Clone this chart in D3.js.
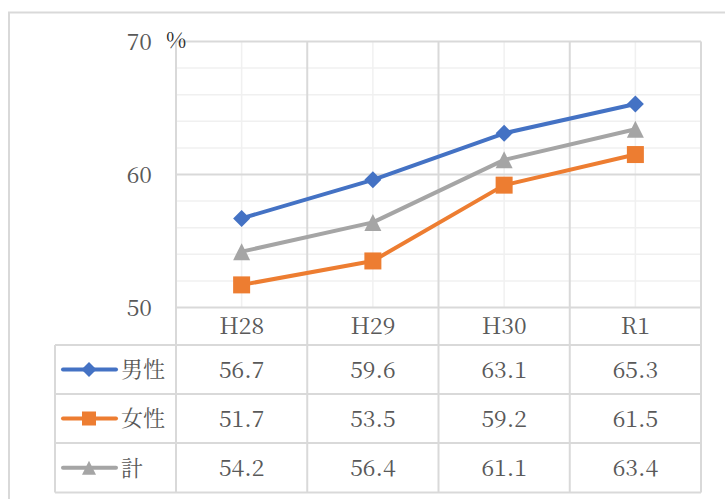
<!DOCTYPE html>
<html><head><meta charset="utf-8">
<script src="https://cdn.jsdelivr.net/npm/d3@7"></script>
<style>
body{margin:0;background:#fff;}
svg{display:block;}
</style></head>
<body>
<svg id="chart" width="725" height="499"></svg>
<script>
// Employment rate by year (%)
const categories = ["H28", "H29", "H30", "R1"];
const seriesNames = ["男性", "女性", "計"];
const male = [56.7, 59.6, 63.1, 65.3];
const female = [51.7, 53.5, 59.2, 61.5];
const total = [54.2, 56.4, 61.1, 63.4];
const yTicks = [50, 60, 70];
const unitLabel = "%";

(function draw() {
  const series = [
    {name: seriesNames[0], values: male, color: "#4472C4", shape: "diamond"},
    {name: seriesNames[1], values: female, color: "#ED7D31", shape: "square"},
    {name: seriesNames[2], values: total, color: "#A5A5A5", shape: "triangle"}
  ];

  const svg = d3.select("#chart");
  const plotL = 176, plotR = 701, plotT = 41.5, plotB = 307.5;
  const rowH = [307.5, 345, 394, 443, 492.5];
  const tableLeft = 55;
  const font = '"Noto Serif CJK JP", "Liberation Serif", serif';
  const textColor = "#595959";
  const major = "#D9D9D9", minor = "#F0F0F0";

  const x = d3.scaleBand().domain(categories).range([plotL, plotR]);
  const y = d3.scaleLinear().domain([50, 70]).range([plotB, plotT]);
  const cx = c => x(c) + x.bandwidth() / 2;

  // outer chart frame
  svg.append("rect").attr("x", 9).attr("y", 12.5).attr("width", 800).attr("height", 600)
    .attr("fill", "none").attr("stroke", major).attr("stroke-width", 2);

  const g = svg.append("g");
  // minor horizontal gridlines every 2 units
  g.selectAll("line.hmin").data(d3.range(52, 70, 2).filter(v => v % 10 !== 0)).join("line")
    .attr("x1", plotL).attr("x2", plotR).attr("y1", d => y(d)).attr("y2", d => y(d))
    .attr("stroke", minor).attr("stroke-width", 1.5);
  // minor vertical gridlines at category centres
  g.selectAll("line.vmin").data(categories).join("line")
    .attr("x1", cx).attr("x2", cx)
    .attr("y1", plotT).attr("y2", plotB).attr("stroke", minor).attr("stroke-width", 1.5);
  // major horizontal gridlines
  g.selectAll("line.hmaj").data(yTicks).join("line")
    .attr("x1", plotL).attr("x2", plotR).attr("y1", d => y(d)).attr("y2", d => y(d))
    .attr("stroke", major).attr("stroke-width", 2);
  // category boundaries, running through the data table
  const bounds = categories.map(c => x(c)).concat([plotR]);
  g.selectAll("line.vmaj").data(bounds).join("line")
    .attr("x1", d => d).attr("x2", d => d).attr("y1", plotT).attr("y2", rowH[4])
    .attr("stroke", major).attr("stroke-width", 2);

  // data table grid
  for (let i = 1; i < rowH.length; i++) {
    g.append("line").attr("x1", tableLeft).attr("x2", plotR).attr("y1", rowH[i]).attr("y2", rowH[i])
      .attr("stroke", major).attr("stroke-width", 2);
  }
  g.append("line").attr("x1", tableLeft).attr("x2", tableLeft).attr("y1", rowH[1]).attr("y2", rowH[4])
    .attr("stroke", major).attr("stroke-width", 2);

  const txt = sel => sel.style("font-family", font).style("fill", textColor);

  // y axis labels
  svg.selectAll("text.ytick").data(yTicks).join("text")
    .attr("x", 152).attr("y", d => y(d)).attr("dy", "0.35em").attr("text-anchor", "end")
    .call(txt).style("font-size", "23px").text(d => d);
  svg.append("text").attr("x", 166).attr("y", y(70) - 1).attr("dy", "0.35em")
    .call(txt).style("fill", "#262626").style("font-size", "22px").text(unitLabel);

  // category labels in the header row
  svg.selectAll("text.cat").data(categories).join("text")
    .attr("x", cx).attr("y", (rowH[0] + rowH[1]) / 2).attr("dy", "0.35em")
    .attr("text-anchor", "middle").call(txt).style("font-size", "23px").text(d => d);

  function marker(sel, shape, color, size) {
    if (shape === "diamond") {
      sel.append("path").attr("d", `M0,${-size/2}L${size/2},0L0,${size/2}L${-size/2},0Z`).attr("fill", color);
    } else if (shape === "square") {
      sel.append("rect").attr("x", -size/2).attr("y", -size/2).attr("width", size).attr("height", size).attr("fill", color);
    } else {
      sel.append("path").attr("d", `M0,${-size/2}L${size/2},${size/2}L${-size/2},${size/2}Z`).attr("fill", color);
    }
  }

  const line = d3.line().x((d, i) => cx(categories[i])).y(d => y(d));

  series.forEach((s, si) => {
    svg.append("path").datum(s.values).attr("d", line).attr("fill", "none")
      .attr("stroke", s.color).attr("stroke-width", 4).attr("stroke-linejoin", "round");
    s.values.forEach((v, i) => {
      const m = svg.append("g").attr("transform", `translate(${cx(categories[i])},${y(v)})`);
      marker(m, s.shape, s.color, 17);
    });

    // table row: legend key, name and values
    const cy = (rowH[si + 1] + rowH[si + 2]) / 2;
    svg.append("line").attr("x1", 63).attr("x2", 116).attr("y1", cy).attr("y2", cy)
      .attr("stroke", s.color).attr("stroke-width", 4).attr("stroke-linecap", "round");
    const lm = svg.append("g").attr("transform", `translate(89,${cy})`);
    marker(lm, s.shape, s.color, s.shape === "diamond" ? 15 : 14);
    svg.append("text").attr("x", 121).attr("y", cy).attr("dy", "0.36em")
      .call(txt).style("font-size", "22px").text(s.name);
    svg.selectAll(null).data(s.values).join("text")
      .attr("x", (d, i) => cx(categories[i])).attr("y", cy).attr("dy", "0.35em")
      .attr("text-anchor", "middle").call(txt).style("font-size", "23px").text(d => d.toFixed(1));
  });
})();
</script>
</body></html>
